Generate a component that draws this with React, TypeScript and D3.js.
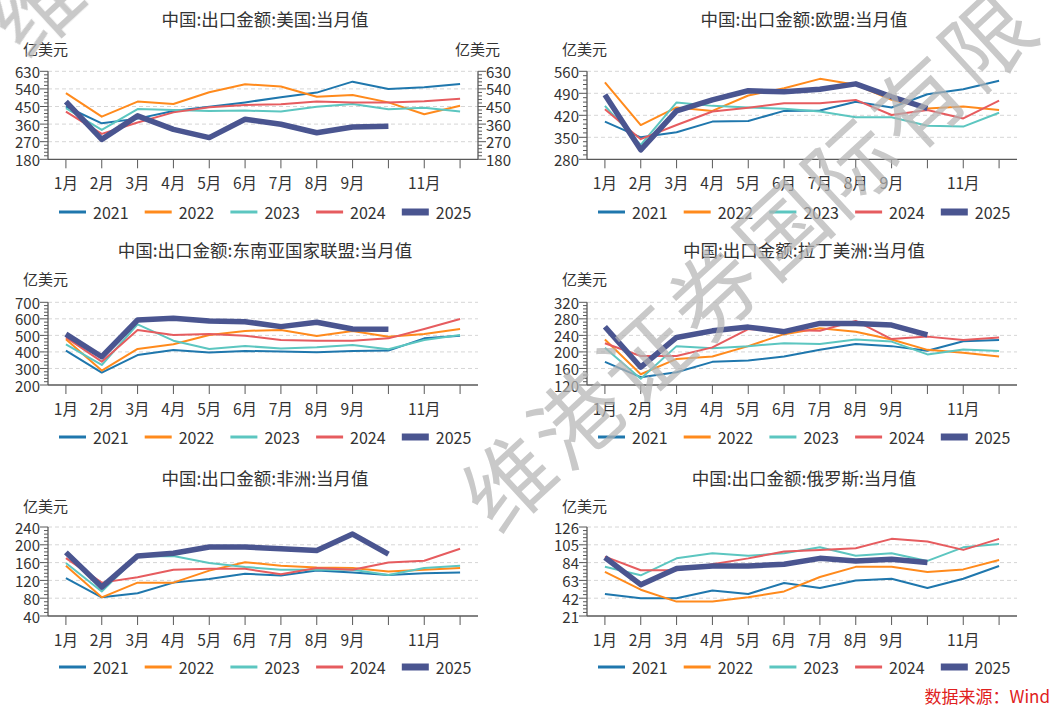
import * as d3 from "d3";

// ── Data ──────────────────────────────────────────────────────────────────────

const MONTHS = ["1月", "2月", "3月", "4月", "5月", "6月", "7月", "8月", "9月", "10月", "11月", "12月"];
const MONTH_LABELS = ["1月", "2月", "3月", "4月", "5月", "6月", "7月", "8月", "9月", "", "11月", ""];
const YEARS = ["2021", "2022", "2023", "2024", "2025"];
const YEAR_COLORS = ["#1f77ad", "#ff8a1c", "#5cc6c0", "#e65c5f", "#4a5590"];

const TITLES = [
  "中国:出口金额:美国:当月值",
  "中国:出口金额:欧盟:当月值",
  "中国:出口金额:东南亚国家联盟:当月值",
  "中国:出口金额:拉丁美洲:当月值",
  "中国:出口金额:非洲:当月值",
  "中国:出口金额:俄罗斯:当月值",
];

const US_TICKS = [180, 270, 360, 450, 540, 630];
const EU_TICKS = [280, 350, 420, 490, 560];
const ASEAN_TICKS = [200, 300, 400, 500, 600, 700];
const LATAM_TICKS = [120, 160, 200, 240, 280, 320];
const AFRICA_TICKS = [40, 80, 120, 160, 200, 240];
const RUSSIA_TICKS = [21, 42, 63, 84, 105, 126];

// rows: 2021, 2022, 2023, 2024, 2025 (亿美元)
const US = [
  [450, 364, 388, 427, 449, 471, 497, 521, 577, 540, 548, 565],
  [518, 398, 475, 463, 523, 564, 552, 500, 509, 471, 410, 454],
  [441, 330, 437, 432, 427, 429, 424, 449, 463, 436, 444, 425],
  [424, 310, 368, 420, 446, 458, 461, 475, 471, 470, 477, 490],
  [475, 282, 402, 333, 291, 385, 359, 316, 345, 349],
];
const EU = [
  [400, 350, 366, 400, 402, 434, 435, 463, 445, 487, 503, 530],
  [525, 389, 445, 434, 483, 506, 536, 517, 469, 442, 448, 437],
  [450, 326, 461, 450, 445, 441, 432, 414, 414, 387, 384, 428],
  [439, 344, 389, 432, 444, 458, 458, 469, 421, 437, 410, 467],
  [485, 310, 434, 469, 498, 495, 503, 520, 479, 442],
];
const ASEAN = [
  [408, 275, 381, 412, 396, 406, 402, 398, 406, 408, 482, 498],
  [476, 287, 418, 446, 502, 527, 533, 496, 527, 492, 508, 539],
  [446, 321, 567, 468, 418, 436, 420, 428, 442, 416, 472, 502],
  [488, 341, 533, 502, 508, 498, 472, 468, 468, 482, 539, 599],
  [508, 371, 593, 603, 587, 583, 553, 579, 539, 537],
];
const LATAM = [
  [176, 139, 151, 176, 179, 189, 205, 219, 214, 203, 226, 229],
  [230, 146, 183, 189, 214, 243, 257, 249, 230, 205, 198, 189],
  [210, 135, 214, 209, 214, 221, 219, 230, 225, 194, 206, 202],
  [221, 190, 190, 211, 255, 253, 251, 275, 231, 237, 229, 235],
  [261, 163, 235, 251, 260, 249, 269, 269, 265, 241],
];
const AFRICA = [
  [125, 82, 91, 115, 123, 135, 131, 142, 138, 132, 136, 138],
  [153, 82, 115, 115, 142, 161, 153, 149, 148, 140, 144, 148],
  [159, 95, 174, 175, 159, 150, 144, 144, 144, 132, 148, 153],
  [170, 115, 127, 144, 146, 146, 134, 148, 144, 160, 164, 191],
  [183, 105, 175, 181, 195, 195, 191, 187, 224, 179],
];
const RUSSIA = [
  [47, 42, 42, 51, 47, 60, 54, 63, 65, 54, 65, 80],
  [73, 52, 38, 38, 43, 50, 67, 79, 79, 73, 76, 87],
  [79, 69, 89, 95, 92, 95, 102, 92, 95, 86, 102, 106],
  [91, 75, 75, 82, 89, 97, 99, 101, 112, 109, 99, 112],
  [90, 58, 77, 80, 80, 82, 89, 86, 88, 84],
];

const WATERMARK = "维港证券国际有限";

// ── Layout ────────────────────────────────────────────────────────────────────

const FONT = "'Noto Sans CJK SC', 'Noto Sans', sans-serif";
const TEXT = "#333333";
const AXIS = "#595959";

const ROWS = [
  { top: 71.3, bottom: 159.3, title: 18, unit: 48, legend: 212 },
  { top: 302.3, bottom: 385, title: 249, unit: 278, legend: 437 },
  { top: 527, bottom: 616, title: 477, unit: 505, legend: 667 },
];

interface PanelProps {
  x0: number;
  row: (typeof ROWS)[number];
  title: string;
  ticks: number[];
  values: number[][];
  rightAxis?: boolean;
}

function minorTicks(ticks: number[]) {
  const out: number[] = [];
  for (let i = 0; i < ticks.length - 1; i++) {
    for (let k = 1; k < 5; k++) out.push(ticks[i] + ((ticks[i + 1] - ticks[i]) * k) / 5);
  }
  return out;
}

function Panel({ x0, row, title, ticks, values, rightAxis }: PanelProps) {
  const left = x0 + 48;
  const right = x0 + 478;
  const x = d3.scalePoint<string>().domain(MONTHS).range([left, right]).padding(0.5);
  const y = d3
    .scaleLinear()
    .domain([ticks[0], ticks[ticks.length - 1]])
    .range([row.bottom, row.top]);
  const line = d3
    .line<number>()
    .x((_d, i) => x(MONTHS[i]) ?? 0)
    .y((d) => y(d));
  const minors = minorTicks(ticks);

  return (
    <g>
      <text x={x0 + 265} y={row.title} textAnchor="middle" dominantBaseline="central" fontSize={17.5} fill={TEXT}>
        {title}
      </text>
      <text x={x0 + 23} y={row.unit} dominantBaseline="central" fontSize={15} fill={TEXT}>
        亿美元
      </text>
      {rightAxis && (
        <text x={right - 23} y={row.unit} dominantBaseline="central" fontSize={15} fill={TEXT}>
          亿美元
        </text>
      )}

      {/* grid */}
      {ticks.slice(1).map((t) => (
        <line key={t} x1={left} x2={right} y1={y(t)} y2={y(t)} stroke="#d6d6d6" strokeDasharray="4,3" />
      ))}

      {/* y axis */}
      <line x1={left} x2={left} y1={row.top} y2={row.bottom} stroke={AXIS} strokeWidth={1.3} />
      {minors.map((t) => (
        <line key={"m" + t} x1={left - 4} x2={left} y1={y(t)} y2={y(t)} stroke={AXIS} />
      ))}
      {ticks.map((t) => (
        <g key={"t" + t}>
          <line x1={left - 8} x2={left} y1={y(t)} y2={y(t)} stroke={AXIS} />
          <text x={left - 8} y={y(t)} textAnchor="end" dominantBaseline="central" fontSize={15} fill={TEXT}>
            {t}
          </text>
        </g>
      ))}
      {rightAxis && (
        <g>
          <line x1={right} x2={right} y1={row.top} y2={row.bottom} stroke={AXIS} strokeWidth={1.3} />
          {minors.map((t) => (
            <line key={"rm" + t} x1={right} x2={right + 4} y1={y(t)} y2={y(t)} stroke={AXIS} />
          ))}
          {ticks.map((t) => (
            <g key={"rt" + t}>
              <line x1={right} x2={right + 8} y1={y(t)} y2={y(t)} stroke={AXIS} />
              <text x={right + 8} y={y(t)} dominantBaseline="central" fontSize={15} fill={TEXT}>
                {t}
              </text>
            </g>
          ))}
        </g>
      )}

      {/* x axis */}
      <line x1={left} x2={right} y1={row.bottom} y2={row.bottom} stroke={AXIS} strokeWidth={1.3} />
      {MONTHS.map((m, i) => (
        <g key={m}>
          <line x1={x(m)} x2={x(m)} y1={row.bottom} y2={row.bottom + 9} stroke={AXIS} />
          <text x={x(m)} y={row.bottom + 23} textAnchor="middle" dominantBaseline="central" fontSize={15.5} fill={TEXT}>
            {MONTH_LABELS[i]}
          </text>
        </g>
      ))}

      {/* series */}
      {values.map((v, i) => (
        <path
          key={YEARS[i]}
          d={line(v) ?? ""}
          fill="none"
          stroke={YEAR_COLORS[i]}
          strokeWidth={i === 4 ? 5.5 : 2}
          strokeLinejoin="round"
        />
      ))}

      {/* legend */}
      {YEARS.map((yr, i) => {
        const lx = x0 + 59 + i * 85.7;
        return (
          <g key={"l" + yr}>
            <line
              x1={lx}
              x2={lx + 27}
              y1={row.legend}
              y2={row.legend}
              stroke={YEAR_COLORS[i]}
              strokeWidth={i === 4 ? 7 : 3}
            />
            <text x={lx + 34} y={row.legend} dominantBaseline="central" fontSize={16} fill={TEXT}>
              {yr}
            </text>
          </g>
        );
      })}
    </g>
  );
}

export default function App() {
  const angle = -42.7;
  const rad = (angle * Math.PI) / 180;
  const step = 93;
  return (
    <svg
      width={1060}
      height={706}
      style={{ position: "absolute", left: 0, top: 0, background: "#ffffff" }}
      fontFamily={FONT}
    >
      <rect width={1060} height={706} fill="#ffffff" />
      <Panel x0={0} row={ROWS[0]} title={TITLES[0]} ticks={US_TICKS} values={US} rightAxis />
      <Panel x0={539} row={ROWS[0]} title={TITLES[1]} ticks={EU_TICKS} values={EU} />
      <Panel x0={0} row={ROWS[1]} title={TITLES[2]} ticks={ASEAN_TICKS} values={ASEAN} />
      <Panel x0={539} row={ROWS[1]} title={TITLES[3]} ticks={LATAM_TICKS} values={LATAM} />
      <Panel x0={0} row={ROWS[2]} title={TITLES[4]} ticks={AFRICA_TICKS} values={AFRICA} />
      <Panel x0={539} row={ROWS[2]} title={TITLES[5]} ticks={RUSSIA_TICKS} values={RUSSIA} />

      <text x={1050} y={695} textAnchor="end" dominantBaseline="central" fontSize={17} fill="#e02020">
        数据来源：Wind
      </text>

      {/* watermark */}
      <g fill="#b4b4b4" opacity={0.72} fontSize={88}>
        {WATERMARK.split("").map((ch, i) => (
          <text
            key={i}
            textAnchor="middle"
            dominantBaseline="central"
            transform={`translate(${505 + i * step * Math.cos(rad)},${478 + i * step * Math.sin(rad)}) rotate(${angle})`}
          >
            {ch}
          </text>
        ))}
        <text textAnchor="middle" dominantBaseline="central" transform={`translate(32,2) rotate(${angle})`}>
          维
        </text>
      </g>
    </svg>
  );
}
